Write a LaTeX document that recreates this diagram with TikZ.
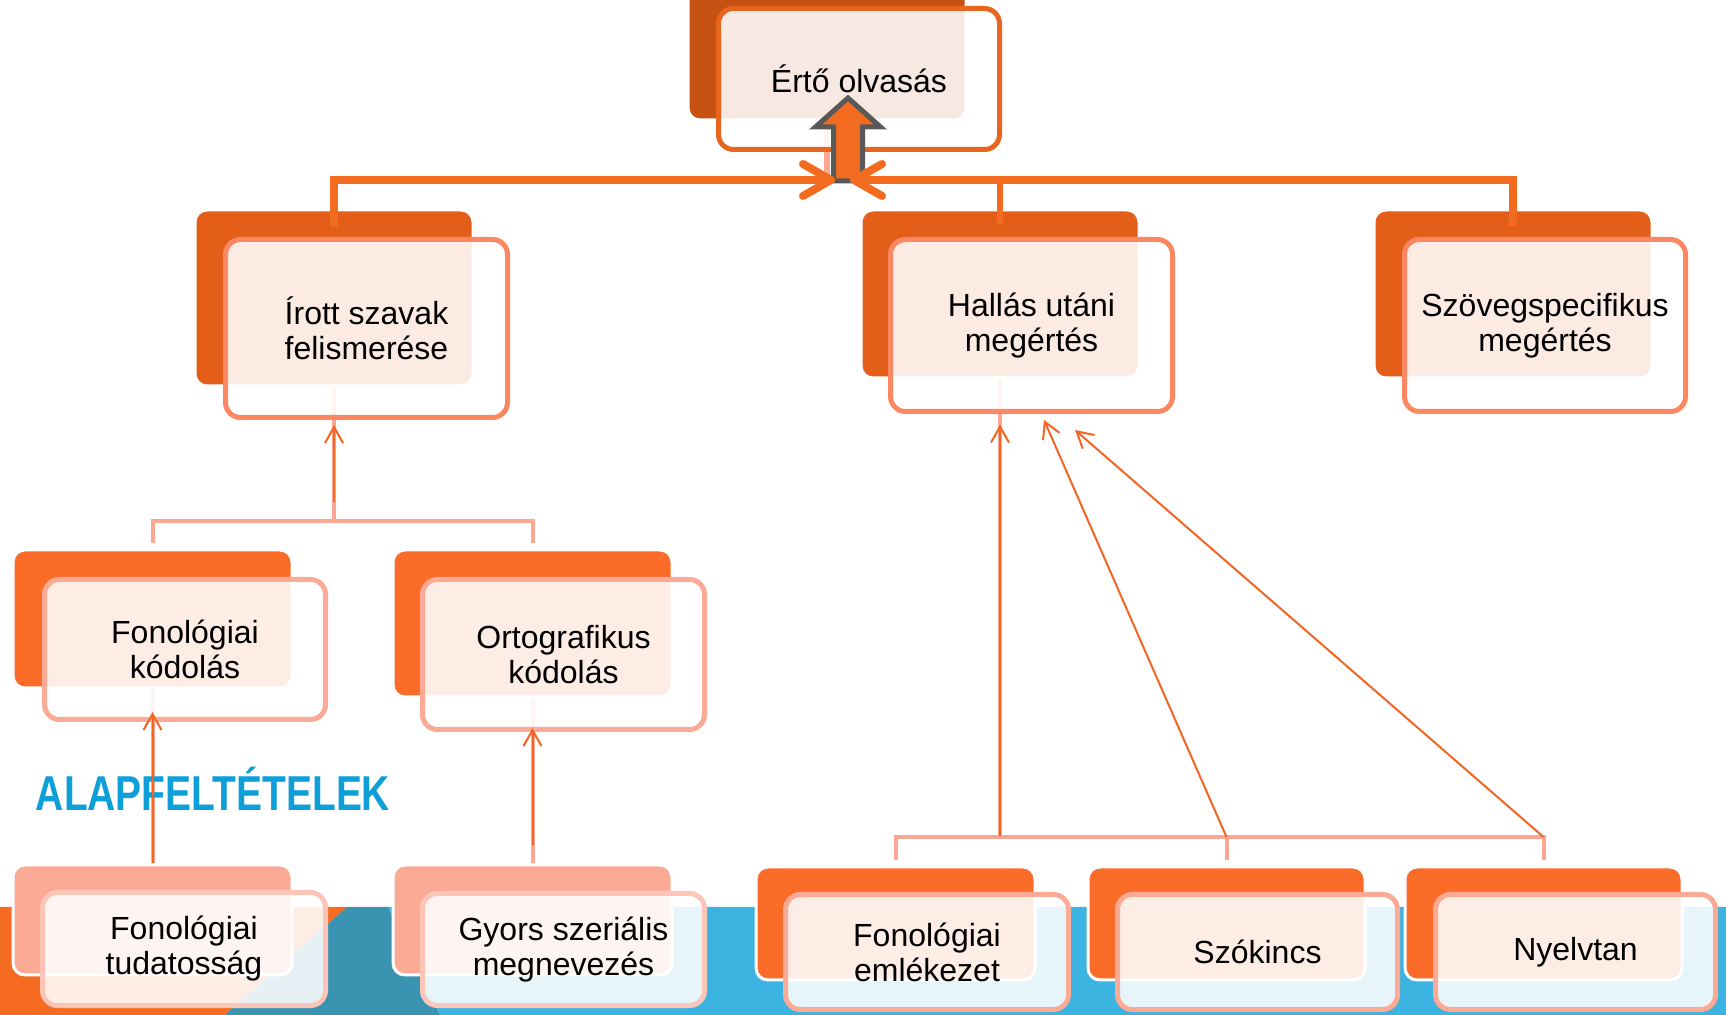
\documentclass[tikz,border=0pt]{standalone}
\usepackage{fontspec}
\setmainfont{Liberation Sans}
\usepackage{graphicx}
\usetikzlibrary{arrows.meta,calc}
\definecolor{cA}{HTML}{C55213}
\definecolor{cB}{HTML}{E35F19}
\definecolor{cC}{HTML}{FA6C28}
\definecolor{cD}{HTML}{FBAA96}
\definecolor{frA}{HTML}{E8651F}
\definecolor{frB}{HTML}{FB8862}
\definecolor{frC}{HTML}{FBAA96}
\definecolor{frD}{HTML}{FCC5B8}
\definecolor{salC}{HTML}{FBA792}
\definecolor{treeC}{HTML}{F36B1E}
\definecolor{arrC}{HTML}{F26522}
\definecolor{grayC}{HTML}{595959}
\definecolor{bandO}{HTML}{F56B22}
\definecolor{bandT}{HTML}{3A94B1}
\definecolor{bandB}{HTML}{3CB3E0}
\definecolor{alapC}{HTML}{0E9FD9}
\newcommand\lbl{\fontsize{16}{17.5}\selectfont}
\pgfdeclarelayer{band}
\pgfdeclarelayer{conn}
\pgfsetlayers{band,conn,main}
\tikzset{
  sz/.style 2 args={minimum width=#1*0.5pt,minimum height=#2*0.5pt},
  backbox/.style={rounded corners=6pt,inner sep=0pt,outer sep=0pt,draw=white,line width=1.5pt},
  frontbox/.style={rounded corners=7.5pt,inner sep=0pt,outer sep=0pt,fill=white,fill opacity=0.88,text opacity=1,line width=2.5pt,align=center,font=\lbl,text=black},
  sal/.style={draw=salC,line width=2pt},
  treeline/.style={draw=treeC,line width=4pt},
  thinarr/.style={draw=arrC,line width=1pt,-{Straight Barb[length=8pt,width=9pt]}},
  bigbarb/.style={-{Straight Barb[length=14pt,width=16pt,round]}},
}
\begin{document}
\begin{tikzpicture}[x=0.5pt,y=-0.5pt]
\useasboundingbox (0,0) rectangle (1726,1015);
\clip (0,0) rectangle (1726,1015);
% background band
\begin{pgfonlayer}{band}
\fill[bandO] (0,907) -- (347,907) -- (225,1015) -- (0,1015) -- cycle;
\fill[bandT] (347,907) -- (388,907) -- (440,1015) -- (225,1015) -- cycle;
\fill[bandB] (388,907) -- (1726,907) -- (1726,1015) -- (440,1015) -- cycle;
\end{pgfonlayer}
% back boxes
\node[backbox,sz={278}{140},fill=cA] (ertoB) at (827,50) {};
\node[backbox,sz={278}{176},fill=cB] (irottB) at (334,298) {};
\node[backbox,sz={278}{168},fill=cB] (hallasB) at (1000,294) {};
\node[backbox,sz={278}{168},fill=cB] (szovegB) at (1513,294) {};
\node[backbox,sz={279}{138},fill=cC] (fonolB) at (152.5,619) {};
\node[backbox,sz={279}{147},fill=cC] (ortogB) at (532.5,623.5) {};
\node[backbox,sz={279}{110},fill=cD] (tudB) at (152.5,920) {};
\node[backbox,sz={279}{110},fill=cD] (gyorsB) at (532.5,920) {};
\node[backbox,sz={279}{113},fill=cC] (emlekB) at (895.5,923.5) {};
\node[backbox,sz={277}{113},fill=cC] (szoB) at (1226.5,923.5) {};
\node[backbox,sz={277}{113},fill=cC] (nyB) at (1543.5,923.5) {};
% front boxes
\node[frontbox,sz={281}{141},draw=frA] (ertoF) at (859,79) {Értő olvasás};
\node[frontbox,sz={282}{178},draw=frB] (irottF) at (366.5,328.5) {Írott szavak\\felismerése};
\node[frontbox,sz={282}{172},draw=frB] (hallasF) at (1031.5,325.5) {Hallás utáni\\megértés};
\node[frontbox,sz={281}{172},draw=frB] (szovegF) at (1545,325.5) {Szövegspecifikus\\megértés};
\node[frontbox,sz={281}{140},draw=frC] (fonolF) at (185,649.5) {Fonológiai\\kódolás};
\node[frontbox,sz={282}{150},draw=frC] (ortogF) at (563.5,654.5) {Ortografikus\\kódolás};
\node[frontbox,sz={283}{113},draw=frD] (tudF) at (184,949) {Fonológiai\\tudatosság};
\node[frontbox,sz={282}{112},draw=frD] (gyorsF) at (563.5,949.5) {Gyors szeriális\\megnevezés};
\node[frontbox,sz={283}{115},draw=frC] (emlekF) at (927,952) {Fonológiai\\emlékezet};
\node[frontbox,sz={280}{115},draw=frC] (szoF) at (1257.5,952) {Szókincs};
\node[frontbox,sz={280}{115},draw=frC] (nyF) at (1575.5,952) {Nyelvtan};
% helper coordinates
\coordinate (hubL) at (835,180);
\coordinate (hubR) at (850,180);
\coordinate (bar3) at (334,521);
\coordinate (bar4) at (1000,837);
% light connectors
\begin{pgfonlayer}{conn}
\draw[sal,line width=3pt] (ertoB.south) -- (ertoB.south |- hubL);
\draw[sal] (irottB.south) -- (bar3);
\draw[sal] ($(fonolB.north)+(0,-7)$) |- (bar3) -| ($(ortogB.north)+(0,-7)$);
\draw[sal] (tudB.north) -- (fonolB.south);
\draw[sal] (gyorsB.north) -- (ortogB.south);
\draw[sal] ($(emlekB.north)+(0,-7)$) |- (bar4) -| ($(nyB.north)+(0,-7)$);
\draw[sal] ($(szoB.north)+(0,-7)$) -- (szoB.north |- bar4);
\draw[sal] (bar4) -- (bar4 |- hallasB.south);
\end{pgfonlayer}
% block arrow
\draw[fill=treeC,draw=grayC,line width=2.5pt,line join=miter]
  (833.5,181) -- (833.5,127) -- (815.5,127) -- (848,98) -- (880.5,127) -- (862.5,127) -- (862.5,181) -- cycle;
% top tree
\draw[treeline,bigbarb] ($(irottB.north)+(0,16)$) |- (hubL);
\draw[treeline,bigbarb] ($(szovegB.north)+(0,16)$) |- (hubR);
\draw[treeline,line width=3pt] ($(hallasB.north)+(0,14)$) -- (hallasB.north |- hubR);
% label
\node[anchor=base,text=alapC,font=\fontsize{24.5}{24.5}\selectfont\bfseries,inner sep=0pt] (alap) at (213,811) {\scalebox{0.795}[1]{ALAPFELTÉTELEK}};
% thin arrows
\draw[thinarr] ($(bar3)+(0,-19)$) -- ($(irottB.south |- irottF.south)+(0,7.5)$);
\draw[thinarr] ($(bar4)+(0,-1)$) -- ($(bar4 |- hallasF.south)+(0,13)$);
\draw[thinarr] (szoB.north |- bar4) -- ($(hallasF.south)+(12.5,8.5)$);
\draw[thinarr] (nyB.north |- bar4) -- ($(hallasF.south)+(43.5,18.5)$);
\draw[thinarr] ($(tudB.north)+(0,-2)$) -- ($(tudB.north |- fonolF.south)+(0,-7.5)$);
\draw[thinarr] ($(gyorsB.north)+(0,-20)$) -- ($(gyorsB.north |- ortogF.south)+(0,-1.5)$);
\end{tikzpicture}
\end{document}
